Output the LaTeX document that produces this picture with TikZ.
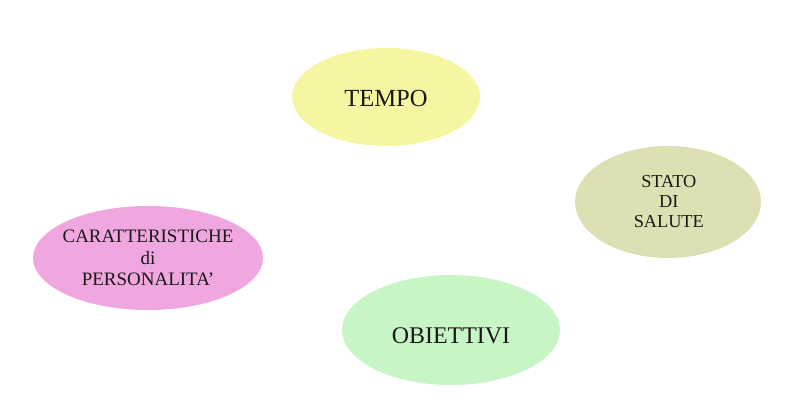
\documentclass[tikz,border=0pt]{standalone}
\usepackage{fontspec}
\setmainfont{Liberation Serif}

\definecolor{giallo}{RGB}{245,245,162}
\definecolor{oliva}{RGB}{222,223,178}
\definecolor{rosa}{RGB}{240,166,222}
\definecolor{verde}{RGB}{200,245,198}

\begin{document}
\begin{tikzpicture}[x=1cm, y=1cm,
    testo/.style={inner sep=0pt, align=center, text=black!90}]
            \useasboundingbox (0,0) rectangle (20,10);
            % Ellissi
            \fill [giallo] (9.65,7.575) ellipse [x radius=2.35, y radius=1.225];
            \fill [oliva] (16.7,4.95) ellipse [x radius=2.325, y radius=1.4];
            \fill [rosa] (3.7,3.55) ellipse [x radius=2.875, y radius=1.3];
            \fill [verde] (11.275,1.75) ellipse [x radius=2.725, y radius=1.375];
            % Testi
            \node [testo, font=\fontsize{17.5}{20}\selectfont] (tempo) at (9.65,7.55) {TEMPO};
            \node [testo, font=\fontsize{13}{14.2}\selectfont] (salute) at (16.72,4.95) {STATO\\DI\\SALUTE};
            \node [testo, font=\fontsize{13.5}{15.3}\selectfont] (personalita) at (3.7,3.55) {CARATTERISTICHE\\di\\PERSONALITA'};
            \node [testo, font=\fontsize{17}{20}\selectfont] (obiettivi) at (11.275,1.6) {OBIETTIVI};
        \end{tikzpicture}
\end{document}
